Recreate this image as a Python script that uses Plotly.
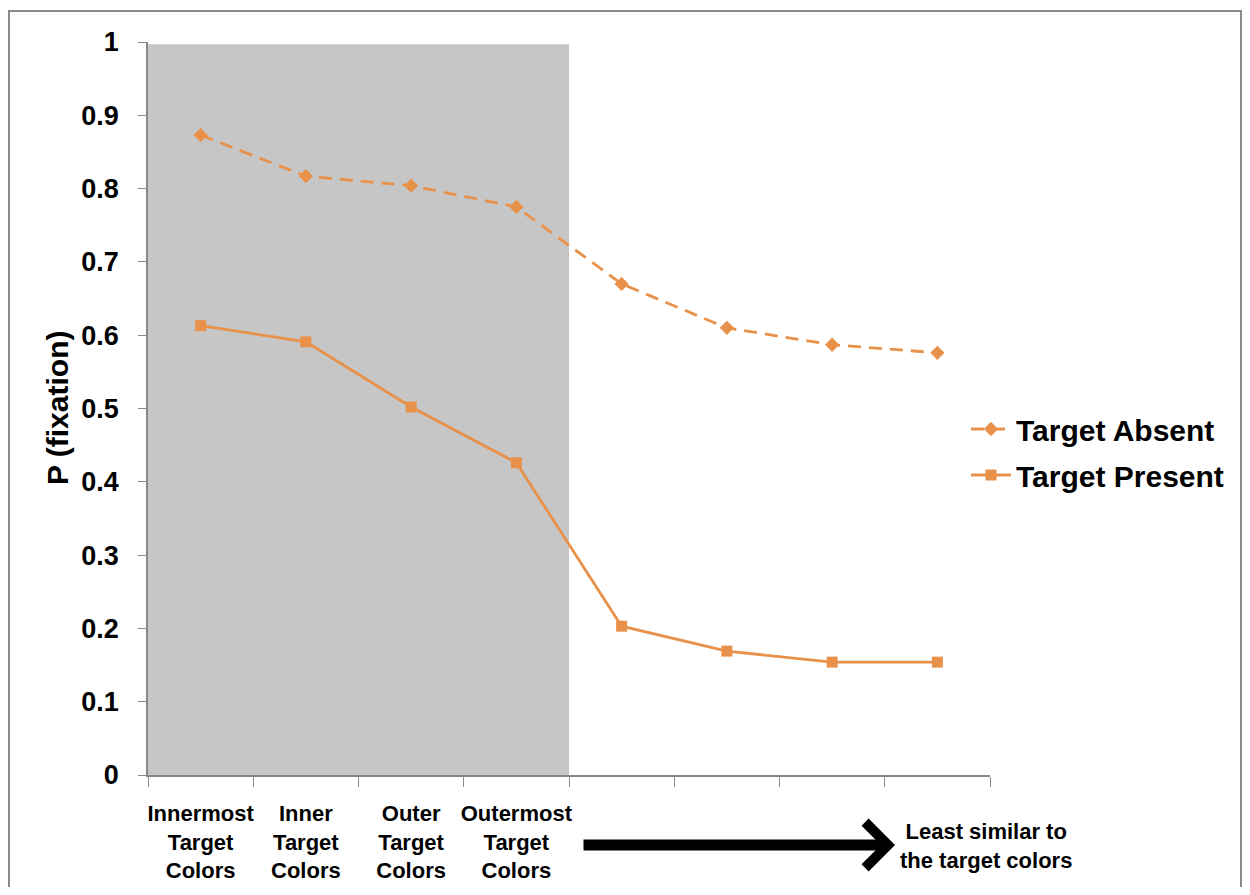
import plotly.graph_objects as go

categories = ["Innermost Target Colors", "Inner Target Colors", "Outer Target Colors",
              "Outermost Target Colors", "Level 5", "Level 6", "Level 7", "Level 8"]
tick_labels = ["Innermost<br>Target<br>Colors", "Inner<br>Target<br>Colors",
               "Outer<br>Target<br>Colors", "Outermost<br>Target<br>Colors", "", "", "", ""]
target_absent = [0.873, 0.817, 0.804, 0.775, 0.670, 0.610, 0.587, 0.576]
target_present = [0.613, 0.591, 0.502, 0.426, 0.203, 0.169, 0.154, 0.154]
y_ticks = [0, 0.1, 0.2, 0.3, 0.4, 0.5, 0.6, 0.7, 0.8, 0.9, 1]
y_tick_labels = ["0", "0.1", "0.2", "0.3", "0.4", "0.5", "0.6", "0.7", "0.8", "0.9", "1"]

ORANGE = "#E8914A"
FONT = "Liberation Sans, Arial, sans-serif"

OFF = 8  # page body margin
W, H = 1234, 879
L, T = 148 - OFF, 42 - OFF
pw, ph = 842, 733
R = W - L - pw
B = H - T - ph

def px_x(p):
    return (p - OFF - L) / pw

def px_y(p):
    return (T + ph - (p - OFF)) / ph

fig = go.Figure()
fig.add_trace(go.Scatter(
    x=categories, y=target_absent, name="Target Absent", mode="lines+markers",
    legendgroup="absent",
    line=dict(color=ORANGE, width=2.8, dash="13px,8px"),
    marker=dict(symbol="diamond", size=11, color=ORANGE),
))
fig.add_trace(go.Scatter(
    x=categories, y=target_present, name="Target Present", mode="lines+markers",
    legendgroup="present",
    line=dict(color=ORANGE, width=2.8),
    marker=dict(symbol="square", size=11, color=ORANGE),
))

# shaded region behind the first four categories
fig.add_shape(type="rect", xref="x", yref="y", x0=-0.5, x1=3.5, y0=0, y1=0.997,
              fillcolor="#c6c6c6", line=dict(width=0), layer="below")

# outer frame
fig.add_shape(type="rect", xref="paper", yref="paper",
              x0=px_x(9), x1=px_x(1241), y0=px_y(900), y1=px_y(11),
              line=dict(color="#8a8a8a", width=2), fillcolor="rgba(0,0,0,0)")

# y axis title
fig.add_annotation(xref="paper", yref="paper", x=px_x(57), y=px_y(408),
                   xanchor="center", yanchor="middle",
                   text="P (fixation)", textangle=-90, showarrow=False,
                   font=dict(family=FONT, size=30, color="black", weight="bold"))

# direction arrow
fig.add_annotation(xref="paper", yref="paper", x=px_x(895), y=px_y(845),
                   ax=-313, ay=0, axref="pixel", ayref="pixel", text="",
                   showarrow=True, arrowhead=4, arrowsize=0.8, arrowwidth=11,
                   arrowcolor="black")
fig.add_annotation(xref="paper", yref="paper", x=px_x(986), y=px_y(846),
                   xanchor="center", yanchor="middle",
                   text="Least similar to<br>the target colors", showarrow=False,
                   font=dict(family=FONT, size=22, color="black", weight="bold"))

fig.update_layout(
    width=W, height=H,
    margin=dict(l=L, r=R, t=T, b=B, autoexpand=False),
    paper_bgcolor="white", plot_bgcolor="white",
    font=dict(family=FONT, color="black"),
    showlegend=True,
    legend=dict(x=px_x(966), y=px_y(452), xanchor="left", yanchor="middle",
                font=dict(family=FONT, size=30, color="black", weight="bold"),
                bgcolor="rgba(0,0,0,0)", itemwidth=40, tracegroupgap=4,
                traceorder="grouped"),
    xaxis=dict(
        type="category", categoryorder="array", categoryarray=categories,
        tickmode="array", tickvals=categories, ticktext=tick_labels,
        tickson="boundaries", ticks="outside", ticklen=10, tickcolor="#888",
        showline=True, linecolor="#888", linewidth=1.5, showgrid=False,
        range=[-0.5, 7.5], ticklabelstandoff=18, tickangle=0, automargin=False,
        tickfont=dict(family=FONT, size=22, color="black", weight="bold"),
    ),
    yaxis=dict(
        range=[0, 1], tickmode="array", tickvals=y_ticks, ticktext=y_tick_labels,
        ticks="outside", ticklen=8, tickcolor="#888",
        showline=True, linecolor="#888", linewidth=1.5, showgrid=False,
        zeroline=False, ticklabelstandoff=14, automargin=False,
        tickfont=dict(family=FONT, size=27, color="black", weight="bold"),
    ),
)

fig.write_html("out.html")
